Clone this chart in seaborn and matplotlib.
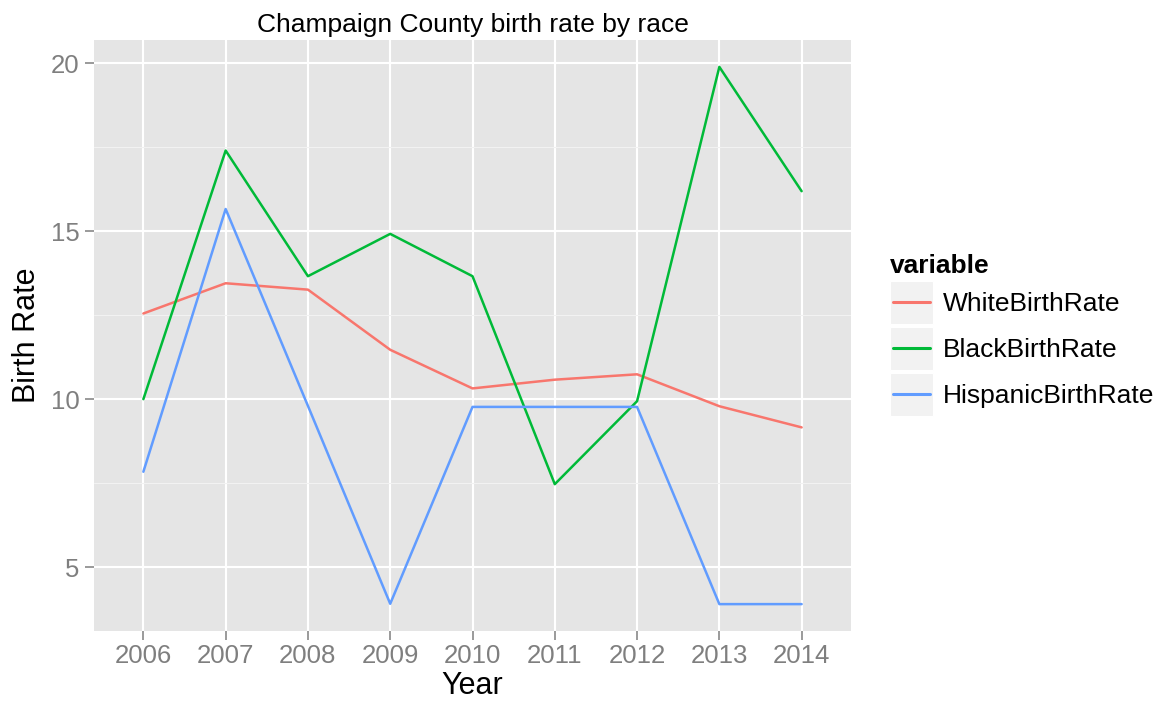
import matplotlib.pyplot as plt
from matplotlib.legend_handler import HandlerBase
from matplotlib.lines import Line2D
from matplotlib.patches import Rectangle
from matplotlib.ticker import MultipleLocator
import pandas as pd
import seaborn as sns

# data
years = [2006, 2007, 2008, 2009, 2010, 2011, 2012, 2013, 2014]
white_rate = [12.55, 13.45, 13.26, 11.47, 10.32, 10.58, 10.74, 9.79, 9.16]
black_rate = [10.0, 17.4, 13.66, 14.92, 13.66, 7.47, 9.94, 19.89, 16.19]
hispanic_rate = [7.84, 15.66, 9.8, 3.91, 9.77, 9.77, 9.77, 3.9, 3.9]
series_names = ["WhiteBirthRate", "BlackBirthRate", "HispanicBirthRate"]

# ggplot hue colours
COLORS = ["#F8766D", "#00BA38", "#619CFF"]
PANEL = "#E5E5E5"
TICK_GREY = "#7F7F7F"

df = pd.DataFrame({"Year": years, series_names[0]: white_rate,
                   series_names[1]: black_rate, series_names[2]: hispanic_rate})
df_melted = pd.melt(df, id_vars=["Year"], value_vars=series_names,
                    var_name="variable", value_name="Birth Rate")

sns.set_theme(style="darkgrid", rc={
    "axes.facecolor": PANEL,
    "grid.color": "white",
    "axes.edgecolor": PANEL,
    "axes.linewidth": 0,
    "text.color": "black",
    "axes.labelcolor": "black",
})
plt.rcParams["font.family"] = ["Liberation Sans", "DejaVu Sans"]

fig, ax = plt.subplots(figsize=(11.59, 7.09), dpi=100)
fig.subplots_adjust(left=94 / 1159, right=851 / 1159, top=1 - 40 / 709, bottom=1 - 631 / 709)

sns.lineplot(data=df_melted, x="Year", y="Birth Rate", hue="variable",
             palette=COLORS, linewidth=1.8, ax=ax)

ax.set_xlim(2006 - 0.6, 2014 + 0.6)
ax.set_ylim(3.1, 20.69)
ax.set_xticks(years)
ax.set_xticklabels([str(y) for y in years])
ax.yaxis.set_major_locator(MultipleLocator(5))
ax.yaxis.set_minor_locator(MultipleLocator(2.5))
ax.grid(which="major", color="white", linewidth=1.5)
ax.grid(which="minor", axis="y", color="#F2F2F2", linewidth=0.8)
ax.grid(which="minor", axis="x", visible=False)
ax.tick_params(axis="both", which="major", length=6.5, width=1.1, color=TICK_GREY,
               labelcolor=TICK_GREY, labelsize=18.5, direction="out", bottom=True, left=True)
ax.tick_params(axis="x", pad=3)
ax.tick_params(axis="y", pad=4)
ax.tick_params(which="minor", length=0)
for s in ax.spines.values():
    s.set_visible(False)

ax.set_title("Champaign County birth rate by race", fontsize=19, pad=6, color="black")
ax.set_xlabel("Year", fontsize=22, labelpad=2)
ax.set_ylabel("Birth Rate", fontsize=22, labelpad=6)


class KeyHandler(HandlerBase):
    # grey square key with the line drawn across it, like ggplot
    def create_artists(self, legend, orig_handle, xdescent, ydescent, width, height, fontsize, trans):
        bg = Rectangle((-xdescent, -ydescent), width, height, facecolor="#F2F2F2",
                       edgecolor="white", linewidth=0.8, transform=trans)
        y = -ydescent + height / 2
        line = Line2D([-xdescent + 0.07 * width, -xdescent + 0.93 * width], [y, y],
                      color=orig_handle.get_color(), linewidth=2.2, transform=trans)
        return [bg, line]


handles, labels = ax.get_legend_handles_labels()
leg = ax.legend(handles, labels, title="variable", loc="upper left",
                bbox_to_anchor=(890 / 1159, 1 - 254 / 709), bbox_transform=fig.transFigure,
                frameon=False, fontsize=19, title_fontsize=19, borderpad=0, borderaxespad=0,
                handlelength=1.63, handleheight=2.13, handletextpad=0.38, labelspacing=0.11,
                alignment="left", labelcolor="black", handler_map={Line2D: KeyHandler()})
leg.get_title().set_fontweight("bold")
leg.get_title().set_color("black")

fig.savefig("out.png", dpi=100)
